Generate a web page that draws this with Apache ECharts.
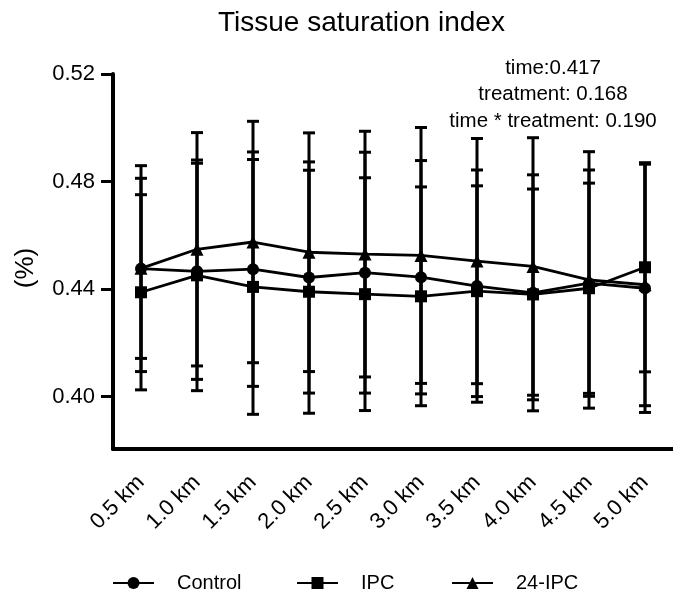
<!DOCTYPE html>
<html><head><meta charset="utf-8">
<script src="https://cdn.jsdelivr.net/npm/echarts@6/dist/echarts.min.js"></script>
<style>html,body{margin:0;padding:0;background:#fff}#c{width:673px;height:592px}</style>
</head><body><div id="c"></div>
<script>
const categories = ['0.5 km','1.0 km','1.5 km','2.0 km','2.5 km','3.0 km','3.5 km','4.0 km','4.5 km','5.0 km'];
const controlMean = [0.4476, 0.4466, 0.4474, 0.4443, 0.4461, 0.4444, 0.4411, 0.4386, 0.4422, 0.4403];
const controlSD   = [0.0383, 0.0402, 0.0436, 0.0430, 0.0448, 0.0434, 0.0432, 0.0439, 0.0421, 0.0462];
const ipcMean     = [0.4388, 0.4451, 0.4408, 0.4390, 0.4381, 0.4373, 0.4392, 0.4380, 0.4403, 0.4481];
const ipcSD       = [0.0363, 0.0429, 0.0474, 0.0452, 0.0433, 0.0407, 0.0392, 0.0392, 0.0391, 0.0389];
const ipc24Mean   = [0.4477, 0.4548, 0.4575, 0.4537, 0.4530, 0.4525, 0.4504, 0.4484, 0.4434, 0.4416];
const ipc24SD     = [0.0335, 0.0434, 0.0449, 0.0444, 0.0457, 0.0476, 0.0456, 0.0479, 0.0477, 0.0450];
const yTicks = [0.40, 0.44, 0.48, 0.52];
const titleText = 'Tissue saturation index';
const yName = '(%)';
const annotations = ['time:0.417', 'treatment: 0.168', 'time * treatment: 0.190'];

const FONT = '"Liberation Sans", Arial, Helvetica, sans-serif';
const chart = echarts.init(document.getElementById('c'), null, {renderer: 'canvas'});

function errorSeries(name, means, sds) {
  return {
    type: 'custom', name: name + ' SD', silent: true, z: 1, animation: false,
    data: means.map((m, i) => [i, m, sds[i]]),
    encode: {x: 0, y: 1},
    renderItem(params, api) {
      const i = api.value(0), m = api.value(1), s = api.value(2);
      const top = api.coord([i, m + s]), bot = api.coord([i, m - s]);
      const hw = 6;
      const st = {stroke: '#000', lineWidth: 3};
      return {type: 'group', children: [
        {type: 'line', shape: {x1: top[0], y1: top[1], x2: bot[0], y2: bot[1]}, style: st},
        {type: 'line', shape: {x1: top[0] - hw, y1: top[1], x2: top[0] + hw, y2: top[1]}, style: st},
        {type: 'line', shape: {x1: bot[0] - hw, y1: bot[1], x2: bot[0] + hw, y2: bot[1]}, style: st}
      ]};
    }
  };
}
function lineSeries(name, means, symbol, size) {
  return {
    type: 'line', name: name, data: means, symbol: symbol, symbolSize: size,
    showSymbol: true, z: 3, animation: false,
    lineStyle: {color: '#000', width: 2.8}, itemStyle: {color: '#000'}
  };
}
function legendItem(name, left) {
  return {
    data: [name], left: left, top: 573, itemWidth: 41, itemHeight: 15,
    padding: 0, selectedMode: false,
    textStyle: {fontSize: 20, color: '#000', fontFamily: FONT, padding: [0, 0, 0, 18]}
  };
}

chart.setOption({
  animation: false,
  backgroundColor: '#fff',
  title: {
    text: titleText, left: 213, top: 4,
    textStyle: {fontSize: 28, fontWeight: 'normal', color: '#000', fontFamily: FONT}
  },
  legend: [legendItem('Control', 112), legendItem('IPC', 296), legendItem('24-IPC', 451)],
  grid: {left: 113, top: 74, width: 565, height: 375, containLabel: false},
  xAxis: {
    type: 'category', data: categories, boundaryGap: true,
    axisLine: {lineStyle: {color: '#000', width: 4}},
    axisTick: {alignWithLabel: true, length: 12, lineStyle: {width: 3, color: '#000'}},
    axisLabel: {rotate: 45, interval: 0, fontSize: 22, color: '#000', fontFamily: FONT, margin: 30}
  },
  yAxis: {
    type: 'value', min: 0.3805, max: 0.52,
    splitLine: {show: false},
    axisLine: {show: true, lineStyle: {color: '#000', width: 4}},
    axisTick: {show: true, length: 12, lineStyle: {width: 3, color: '#000'}, customValues: yTicks},
    axisLabel: {customValues: yTicks, formatter: v => v.toFixed(2), fontSize: 22, color: '#000', fontFamily: FONT, margin: 18}
  },
  graphic: [
    {type: 'text', x: 26, y: 268, rotation: Math.PI / 2,
     style: {text: yName, fontSize: 26, fontFamily: FONT, fill: '#000', textAlign: 'center', textVerticalAlign: 'middle'}},
    {type: 'text', x: 553, y: 55,
     style: {text: annotations.join('\n'), fontSize: 20.5, lineHeight: 26.5, fontFamily: FONT, fill: '#000', textAlign: 'center', textVerticalAlign: 'top'}}
  ],
  series: [
    errorSeries('Control', controlMean, controlSD),
    errorSeries('IPC', ipcMean, ipcSD),
    errorSeries('24-IPC', ipc24Mean, ipc24SD),
    lineSeries('Control', controlMean, 'circle', 12),
    lineSeries('IPC', ipcMean, 'rect', 12),
    lineSeries('24-IPC', ipc24Mean, 'triangle', 13)
  ]
});
</script></body></html>
